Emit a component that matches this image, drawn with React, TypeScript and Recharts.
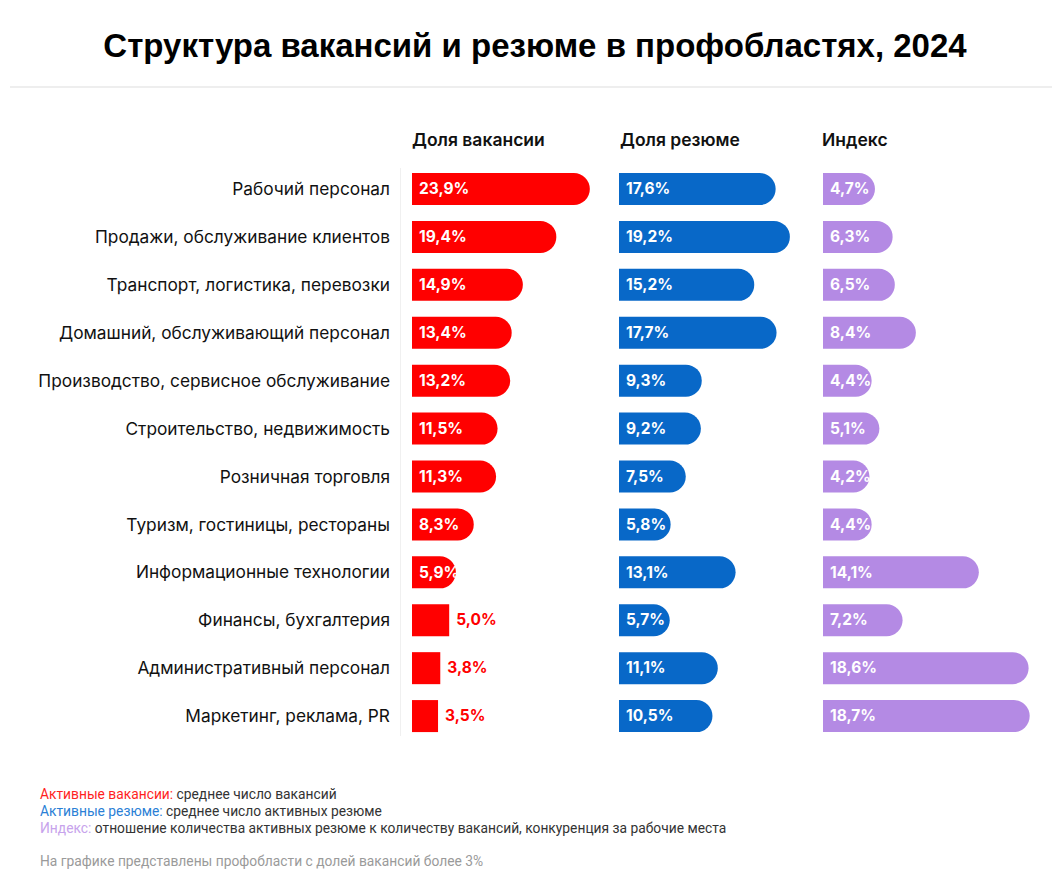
import React from "react";
import { BarChart, Bar, XAxis, YAxis, LabelList } from "recharts";

const categories = [
  "Рабочий персонал",
  "Продажи, обслуживание клиентов",
  "Транспорт, логистика, перевозки",
  "Домашний, обслуживающий персонал",
  "Производство, сервисное обслуживание",
  "Строительство, недвижимость",
  "Розничная торговля",
  "Туризм, гостиницы, рестораны",
  "Информационные технологии",
  "Финансы, бухгалтерия",
  "Административный персонал",
  "Маркетинг, реклама, PR",
];

const vacancyShare = [23.9, 19.4, 14.9, 13.4, 13.2, 11.5, 11.3, 8.3, 5.9, 5.0, 3.8, 3.5];
const resumeShare = [17.6, 19.2, 15.2, 17.7, 9.3, 9.2, 7.5, 5.8, 13.1, 5.7, 11.1, 10.5];
const indexShare = [4.7, 6.3, 6.5, 8.4, 4.4, 5.1, 4.2, 4.4, 14.1, 7.2, 18.6, 18.7];

const data = categories.map((name, i) => ({
  name,
  vac: vacancyShare[i],
  res: resumeShare[i],
  idx: indexShare[i],
}));

const RED = "#ff0000";
const BLUE = "#0868c8";
const PURPLE = "#b48ae4";
const LABEL_FONT = "Inter, 'Noto Sans', sans-serif";

const fmt = (v: number) => v.toFixed(1).replace(".", ",") + "%";

// in the vacancy panel the short bars stay square and get the label outside
const makeShape = (limit: number) => (props: any) => {
  const { x, y, width, height, fill, value } = props;
  const v = Array.isArray(value) ? value[1] : value;
  const r = height / 2;
  if (v < limit || width < r * 2) {
    return <rect x={x} y={y} width={width} height={height} fill={fill} />;
  }
  const d = `M${x},${y} H${x + width - r} A${r},${r} 0 0 1 ${x + width - r},${y + height} H${x} Z`;
  return <path d={d} fill={fill} />;
};

const makeLabel = (color: string, limit: number) => (p: any) => {
  const { x, y, width, height, value } = p;
  const outside = value < limit;
  return (
    <text
      x={outside ? x + width + 7 : x + 7}
      y={y + height / 2 + 1}
      fill={outside ? color : "#fff"}
      fontFamily={LABEL_FONT}
      fontWeight={700}
      fontSize={15.5}
      dominantBaseline="middle"
    >
      {fmt(value)}
    </text>
  );
};

const PLOT_TOP = 165;
const PLOT_H = 575;

function Panel({
  left,
  plotW,
  max,
  dataKey,
  color,
  axisW = 0,
  limit = 0,
}: {
  left: number;
  plotW: number;
  max: number;
  dataKey: string;
  color: string;
  axisW?: number;
  limit?: number;
}) {
  return (
    <div style={{ position: "absolute", left, top: PLOT_TOP }}>
      <BarChart
        width={axisW + plotW}
        height={PLOT_H}
        data={data}
        layout="vertical"
        margin={{ top: 0, right: 0, bottom: 0, left: 0 }}
      >
        <XAxis type="number" domain={[0, max]} hide />
        <YAxis
          type="category"
          dataKey="name"
          width={axisW}
          hide={axisW === 0}
          axisLine={false}
          tickLine={false}
          tickSize={0}
          tickMargin={22}
          tick={{ fill: "#111", fontSize: 17.3, fontFamily: LABEL_FONT }}
        />
        <Bar
          dataKey={dataKey}
          fill={color}
          barSize={32}
          shape={makeShape(limit)}
          isAnimationActive={false}
        >
          <LabelList dataKey={dataKey} content={makeLabel(color, limit)} />
        </Bar>
      </BarChart>
    </div>
  );
}

const header: React.CSSProperties = {
  position: "absolute",
  top: 129,
  fontFamily: LABEL_FONT,
  fontWeight: 600,
  fontSize: 17.5,
  color: "#111",
  margin: 0,
};

const note: React.CSSProperties = {
  position: "absolute",
  left: 40,
  fontFamily: "Roboto, 'Noto Sans', sans-serif",
  fontSize: 13.8,
  color: "#333",
  whiteSpace: "nowrap",
};

export default function App() {
  return (
    <div
      style={{
        position: "absolute",
        left: 0,
        top: 0,
        width: 1064,
        height: 875,
        background: "#fff",
        overflow: "hidden",
      }}
    >
      <div
        style={{
          position: "absolute",
          top: 27,
          left: 0,
          width: 1070,
          textAlign: "center",
          fontFamily: "'Liberation Sans', Arial, sans-serif",
          fontWeight: 700,
          fontSize: 33,
          color: "#000",
        }}
      >
        Структура вакансий и резюме в профобластях, 2024
      </div>
      <div
        style={{
          position: "absolute",
          top: 86,
          left: 10,
          width: 1042,
          height: 2,
          background: "#eeeeee",
        }}
      />

      <div style={{ ...header, left: 412 }}>Доля вакансии</div>
      <div style={{ ...header, left: 620 }}>Доля резюме</div>
      <div style={{ ...header, left: 822 }}>Индекс</div>

      <div
        style={{
          position: "absolute",
          left: 400,
          top: 168,
          width: 1,
          height: 568,
          background: "#f0f0f0",
        }}
      />

      <Panel left={0} axisW={412} plotW={186} max={25} dataKey="vac" color={RED} limit={5.5} />
      <Panel left={619} plotW={178} max={20} dataKey="res" color={BLUE} />
      <Panel left={823} plotW={210} max={19} dataKey="idx" color={PURPLE} />

      <div style={{ ...note, top: 786 }}>
        <span style={{ color: "#ff1f1f" }}>Активные вакансии:</span> среднее число вакансий
      </div>
      <div style={{ ...note, top: 803 }}>
        <span style={{ color: "#2b7fd6" }}>Активные резюме:</span> среднее число активных резюме
      </div>
      <div style={{ ...note, top: 820 }}>
        <span style={{ color: "#c7a3ec" }}>Индекс:</span> отношение количества активных резюме к
        количеству вакансий, конкуренция за рабочие места
      </div>
      <div style={{ ...note, top: 853, color: "#9a9a9a" }}>
        На графике представлены профобласти с долей вакансий более 3%
      </div>
    </div>
  );
}
